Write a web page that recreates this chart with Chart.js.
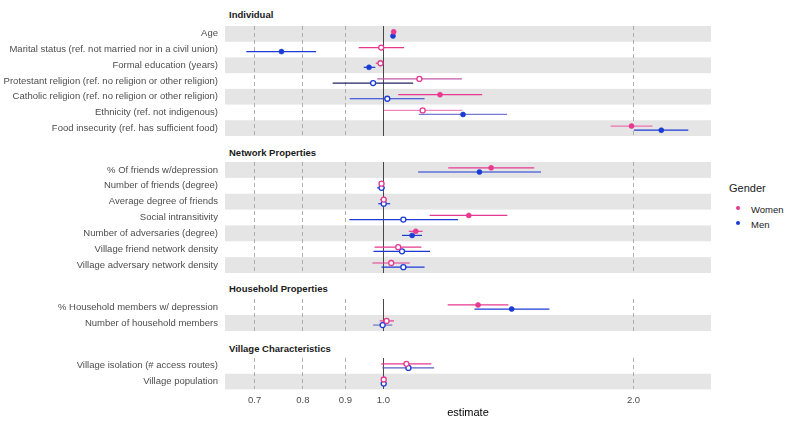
<!DOCTYPE html>
<html><head><meta charset="utf-8">
<script src="https://cdn.jsdelivr.net/npm/chart.js@4.4.1/dist/chart.umd.min.js"></script>
<style>
html,body{margin:0;padding:0;background:#fff;width:807px;height:422px;overflow:hidden;font-family:"Liberation Sans",Arial,sans-serif;}
.panel{position:absolute;left:0;width:711px;}
.ptitle{position:absolute;left:229px;font-weight:bold;font-size:9.5px;color:#1a1a1a;line-height:10px;white-space:nowrap;}
.leg{position:absolute;color:#1a1a1a;white-space:nowrap;}
.dot{position:absolute;width:4px;height:4px;border-radius:50%;}
</style></head><body>

<div class="ptitle" style="top:10px">Individual</div>
<div class="ptitle" style="top:148px">Network Properties</div>
<div class="ptitle" style="top:284px">Household Properties</div>
<div class="ptitle" style="top:344px">Village Characteristics</div>

<div class="panel" style="top:26px;height:110px"><canvas id="c1"></canvas></div>
<div class="panel" style="top:162px;height:111px"><canvas id="c2"></canvas></div>
<div class="panel" style="top:299px;height:32px"><canvas id="c3"></canvas></div>
<div class="panel" style="top:358px;height:64px"><canvas id="c4"></canvas></div>

<div class="leg" style="left:729px;top:182px;font-size:11px">Gender</div>
<div class="dot" style="left:736px;top:206px;background:#e7398f"></div>
<div class="leg" style="left:751px;top:204px;font-size:9.5px">Women</div>
<div class="dot" style="left:736px;top:221px;background:#1a3bd6"></div>
<div class="leg" style="left:751px;top:219px;font-size:9.5px">Men</div>

<script>
// ---------- DATA ----------
const xTicks = [0.7, 0.8, 0.9, 1.0, 2.0];
const xTickLabels = ['0.7', '0.8', '0.9', '1.0', '2.0'];

const indLabels = ['Age', 'Marital status (ref. not married nor in a civil union)', 'Formal education (years)',
  'Protestant religion (ref. no religion or other religion)', 'Catholic religion (ref. no religion or other religion)',
  'Ethnicity (ref. not indigenous)', 'Food insecurity (ref. has sufficient food)'];
const indWomenEst = [1.029, 0.994, 0.992, 1.105, 1.170, 1.115, 1.989];
const indWomenLo  = [1.025, 0.934, 0.979, 0.983, 1.042, 1.002, 1.877];
const indWomenHi  = [1.033, 1.059, 0.997, 1.243, 1.315, 1.244, 2.108];
const indWomenSig = [1, 0, 0, 0, 1, 0, 1];
const indMenEst = [1.027, 0.754, 0.961, 0.972, 1.011, 1.247, 2.160];
const indMenLo  = [1.023, 0.684, 0.947, 0.869, 0.911, 1.103, 2.002];
const indMenHi  = [1.031, 0.830, 0.978, 1.086, 1.121, 1.409, 2.328];
const indMenSig = [1, 1, 1, 0, 0, 1, 1];

const netLabels = ['% Of friends w/depression', 'Number of friends (degree)', 'Average degree of friends',
  'Social intransitivity', 'Number of adversaries (degree)', 'Village friend network density',
  'Village adversary network density'];
const netWomenEst = [1.348, 0.995, 1.001, 1.267, 1.094, 1.042, 1.022];
const netWomenLo  = [1.197, 0.988, 0.991, 1.137, 1.073, 0.976, 0.970];
const netWomenHi  = [1.519, 1.002, 1.010, 1.410, 1.115, 1.111, 1.076];
const netWomenSig = [1, 0, 0, 1, 1, 0, 0];
const netMenEst = [1.305, 0.995, 1.001, 1.057, 1.083, 1.053, 1.057];
const netMenLo  = [1.101, 0.983, 0.986, 0.910, 1.053, 0.973, 0.995];
const netMenHi  = [1.548, 1.004, 1.019, 1.230, 1.113, 1.138, 1.121];
const netMenSig = [1, 0, 0, 0, 1, 0, 0];

const hhLabels = ['% Household members w/ depression', 'Number of household members'];
const hhWomenEst = [1.300, 1.009];
const hhWomenLo  = [1.195, 0.990];
const hhWomenHi  = [1.414, 1.030];
const hhWomenSig = [1, 0];
const hhMenEst = [1.427, 0.998];
const hhMenLo  = [1.287, 0.972];
const hhMenHi  = [1.584, 1.025];
const hhMenSig = [1, 0];

const vilLabels = ['Village isolation (# access routes)', 'Village population'];
const vilWomenEst = [1.066, 1.001];
const vilWomenLo  = [0.994, 0.999];
const vilWomenHi  = [1.142, 1.003];
const vilWomenSig = [0, 0];
const vilMenEst = [1.072, 1.001];
const vilMenLo  = [0.997, 0.999];
const vilMenHi  = [1.151, 1.003];
const vilMenSig = [0, 0];

// ---------- STYLE ----------
const PINK = '#e7398f', BLUE = '#1a3bd6';
const FONT = '"Liberation Sans", Arial, sans-serif';
const X_MIN = 0.6448, X_MAX = 2.479;
const DODGE = 0.13;
// per-row interval colour tweaks seen in the reference (panel id -> gender -> row -> colour)
const CI_COLOUR_TWEAKS = {
  c1: {men: {3: '#202066', 5: '#7579cf'}, women: {3: '#c45aa8', 5: '#ee84c0', 6: '#ee70b0'}},
  c3: {men: {1: '#6c70c8'}},
  c4: {men: {0: '#5a60c4'}}
};

const bandPlugin = {
  id: 'bands',
  beforeDraw(chart) {
    const {ctx, chartArea: a, scales: {y}} = chart;
    const n = chart.$rows || 0;
    ctx.save();
    ctx.fillStyle = '#e5e5e5';
    for (let i = 0; i < n; i++) {
      if ((n - 1 - i) % 2 === 0) {
        const t = y.getPixelForValue(i - 0.5), b = y.getPixelForValue(i + 0.5);
        ctx.fillRect(a.left, Math.min(t, b), a.right - a.left, Math.abs(b - t));
      }
    }
    ctx.restore();
  }
};

function makePanel(id, labels, women, men, showAxis) {
  const n = labels.length;
  const datasets = [];
  const tweaks = CI_COLOUR_TWEAKS[id] || {};
  [[women, PINK, -DODGE, 'women'], [men, BLUE, DODGE, 'men']].forEach(([g, col, off, key]) => {
    const tw = tweaks[key] || {};
    labels.forEach((_, i) => {
      datasets.push({
        data: [{x: g.lo[i], y: i + off}, {x: g.hi[i], y: i + off}],
        showLine: true, borderColor: tw[i] || col, borderWidth: 1.2,
        pointRadius: 0, pointHoverRadius: 0, order: 2
      });
    });
    datasets.push({
      data: labels.map((_, i) => ({x: g.est[i], y: i + off})),
      showLine: false,
      pointRadius: 2.5,
      pointHoverRadius: 2.5,
      pointBackgroundColor: g.sig.map(s => s ? col : '#ffffff'),
      pointBorderColor: col,
      pointBorderWidth: g.sig.map(s => s ? 0.6 : 1.3),
      order: 1
    });
  });
  const chart = new Chart(document.getElementById(id), {
    type: 'scatter',
    data: {datasets},
    plugins: [bandPlugin],
    options: {
      responsive: true, maintainAspectRatio: false, animation: false,
      layout: {padding: 0, autoPadding: false},
      events: [],
      plugins: {legend: {display: false}, tooltip: {enabled: false}},
      scales: {
        x: {
          type: 'logarithmic', min: X_MIN, max: X_MAX, bounds: 'data',
          afterBuildTicks: s => { s.ticks = xTicks.map(v => ({value: v})); },
          afterFit: s => { s.height = showAxis ? 32.6 : 0; s.paddingLeft = 0; s.paddingRight = 0; },
          ticks: {
            display: showAxis, autoSkip: false, maxRotation: 0, padding: 5,
            color: '#4d4d4d', font: {size: 9.5, family: FONT},
            callback: (v, i) => xTickLabels[i]
          },
          title: {display: showAxis, text: 'estimate', color: '#000', font: {size: 11, family: FONT}, padding: {top: 0, bottom: 2}},
          grid: {
            drawTicks: false,
            color: c => (c.tick && c.tick.value === 1) ? '#333333' : '#a6a6a6',
            lineWidth: 0.9
          },
          border: {display: false, dash: c => (c.tick && c.tick.value === 1) ? [] : [4, 3]}
        },
        y: {
          type: 'linear', reverse: true, min: -0.5, max: n - 0.5,
          afterBuildTicks: s => { s.ticks = labels.map((_, i) => ({value: i})); },
          afterFit: s => { s.width = 225; s.paddingTop = 0; s.paddingBottom = 0; },
          ticks: {
            autoSkip: false, padding: 7, color: '#4d4d4d', font: {size: 9.5, family: FONT},
            callback: v => labels[v]
          },
          grid: {display: false, drawTicks: false},
          border: {display: false}
        }
      }
    }
  });
  chart.$rows = n;
  chart.update();
  return chart;
}

makePanel('c1', indLabels,
  {est: indWomenEst, lo: indWomenLo, hi: indWomenHi, sig: indWomenSig},
  {est: indMenEst, lo: indMenLo, hi: indMenHi, sig: indMenSig}, false);
makePanel('c2', netLabels,
  {est: netWomenEst, lo: netWomenLo, hi: netWomenHi, sig: netWomenSig},
  {est: netMenEst, lo: netMenLo, hi: netMenHi, sig: netMenSig}, false);
makePanel('c3', hhLabels,
  {est: hhWomenEst, lo: hhWomenLo, hi: hhWomenHi, sig: hhWomenSig},
  {est: hhMenEst, lo: hhMenLo, hi: hhMenHi, sig: hhMenSig}, false);
makePanel('c4', vilLabels,
  {est: vilWomenEst, lo: vilWomenLo, hi: vilWomenHi, sig: vilWomenSig},
  {est: vilMenEst, lo: vilMenLo, hi: vilMenHi, sig: vilMenSig}, true);
</script>
</body></html>
